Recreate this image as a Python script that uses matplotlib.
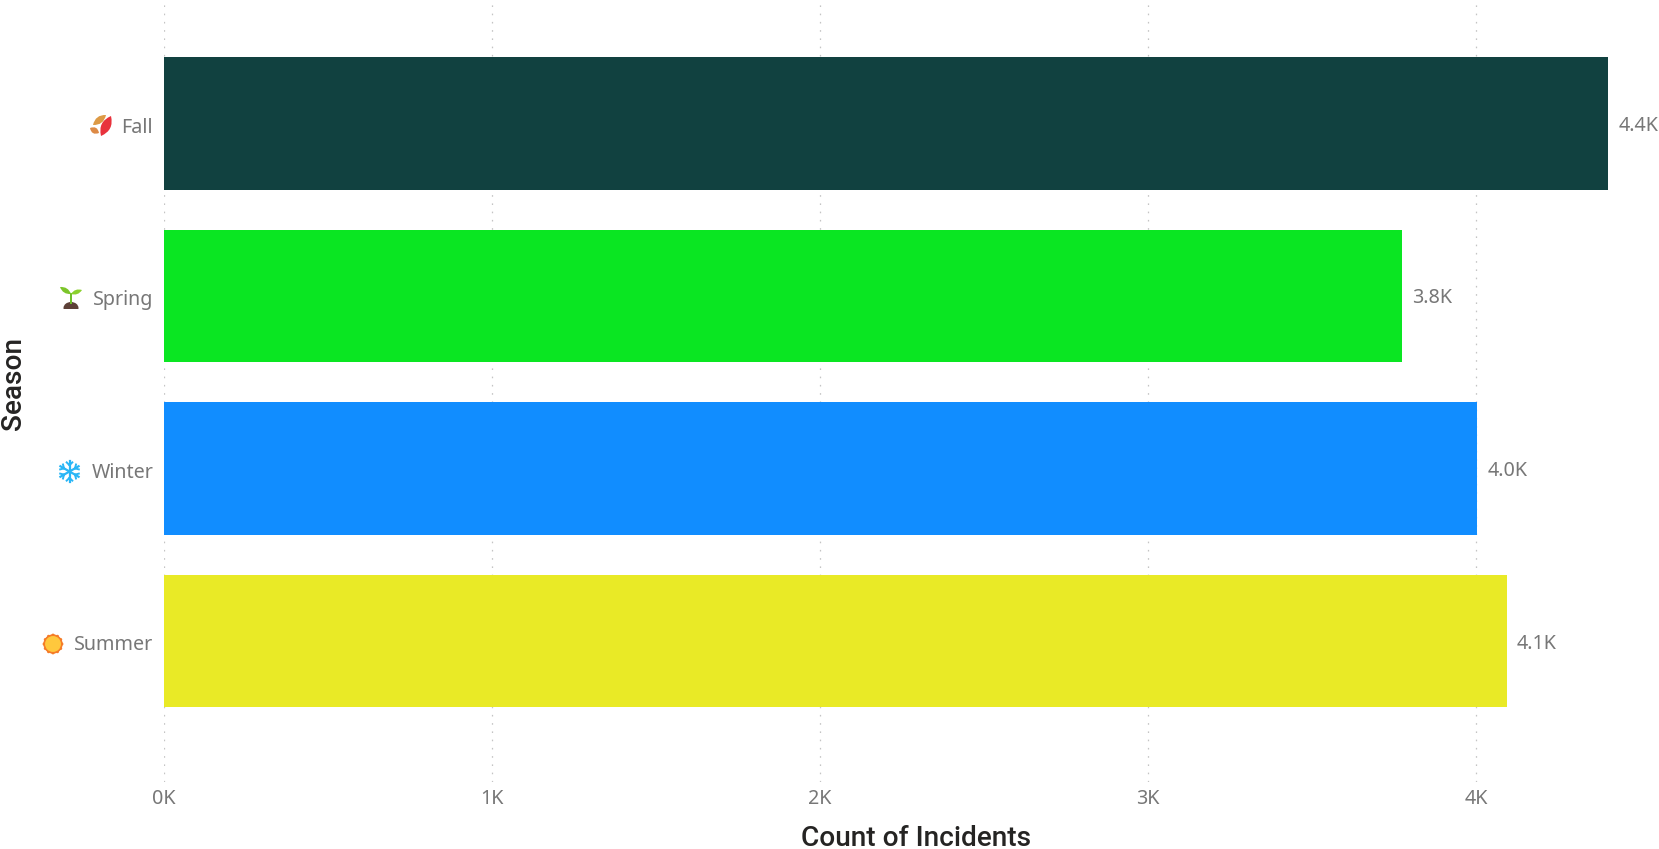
import numpy as np
import matplotlib
matplotlib.use("Agg")
import matplotlib.pyplot as plt
from matplotlib.patches import Circle, Ellipse, Polygon, PathPatch
from matplotlib.path import Path
from matplotlib.transforms import Affine2D, ScaledTranslation
from matplotlib.ticker import FuncFormatter

seasons = ["Fall", "Spring", "Winter", "Summer"]
incidents = [4402, 3773, 4003, 4093]
bar_colors = ["#114140", "#0AE622", "#118DFF", "#E9EA26"]
x_ticks = [0, 1000, 2000, 3000, 4000]

W, H = 1659, 849
fig = plt.figure(figsize=(W / 100, H / 100), dpi=100, facecolor="white")
ax = fig.add_axes([164 / W, 1 - 782 / H, (W - 164) / W, 782 / H])

GREY = "#777777"
TXT = "Noto Sans"
TITLE = "Roboto"

ax.barh(range(len(seasons)), incidents, height=0.768, color=bar_colors, zorder=3)
ax.set_xlim(0, (W - 164) / 328 * 1000)
ax.set_ylim(3.816, -0.715)

ax.set_xticks(x_ticks)
ax.xaxis.set_major_formatter(FuncFormatter(lambda v, _: f"{v / 1000:.0f}K"))
ax.set_yticks(range(len(seasons)))
ax.set_yticklabels(seasons)
ax.tick_params(axis="both", length=0, labelcolor=GREY, labelsize=14.2)
ax.tick_params(axis="x", pad=5)
ax.tick_params(axis="y", pad=7.8)
for lab in ax.get_xticklabels():
    lab.set_family(TXT)
for lab in ax.get_yticklabels():
    lab.set_family(TXT)
    lab.set_transform(lab.get_transform() + ScaledTranslation(0, -1.6 / 100, fig.dpi_scale_trans))
ax.grid(axis="x", color="#c4c4c4", linewidth=0.9, linestyle=(0, (1.3, 5.3)), zorder=0)
ax.set_axisbelow(True)
for s in ax.spines.values():
    s.set_visible(False)

for i, v in enumerate(incidents):
    ax.annotate(f"{v / 1000:.1f}K", (v, i), xytext=(7.4, -1.7), textcoords="offset points",
                va="center", ha="left", color=GREY, fontsize=14.2, family=TXT,
                annotation_clip=False)

fig.text(916 / W, 1 - 838 / H, "Count of Incidents", ha="center", va="center",
         fontsize=20.2, fontweight="medium", family=TITLE, color="#252423")
fig.text(14 / W, 1 - 384 / H, "Season", ha="center", va="center", rotation=90,
         fontsize=20.2, fontweight="medium", family=TITLE, color="#252423")

# Small season icons, placed in reference pixel coordinates
px = Affine2D().scale(1 / W, -1 / H).translate(0, 1) + fig.transFigure
def add(p):
    p.set_transform(px)
    p.set_clip_on(False)
    fig.add_artist(p)

def leaf(a, b, bulge, color):
    a, b = np.array(a, float), np.array(b, float)
    d = b - a
    n = np.array([-d[1], d[0]]) * bulge
    m = (a + b) / 2
    codes = [Path.MOVETO, Path.CURVE3, Path.CURVE3, Path.CURVE3, Path.CURVE3]
    verts = [a, m + n, b, m - n, a]
    add(PathPatch(Path(verts, codes), facecolor=color, edgecolor="none"))

# Fall
leaf((111, 116), (101, 136), 0.42, "#E8323C")
leaf((93, 125), (106, 115), 0.42, "#DD9A45")
leaf((90, 128), (99, 133), 0.60, "#DD8A45")

# Spring
add(Ellipse((71, 308), 15, 12, facecolor="#5D4037", edgecolor="none"))
add(Polygon([(60, 309), (82, 309), (82, 315), (60, 315)], facecolor="white", edgecolor="none"))
add(Polygon([(69.6, 293), (72.2, 293), (72.2, 304), (69.6, 304)], facecolor="#6FBF2A", edgecolor="none"))
leaf((60, 287), (71, 294), 0.38, "#7CC52A")
leaf((82, 290), (71, 294), 0.38, "#8BD12E")

# Winter
cx, cy, r = 69.5, 471.5, 10.5
snow = "#29B6F6"
for k in range(6):
    t = np.pi / 2 + k * np.pi / 3
    u = np.array([np.cos(t), np.sin(t)])
    add(plt.Line2D([cx, cx + r * u[0]], [cy, cy + r * u[1]], color=snow, lw=1.6))
    for s in (-1, 1):
        base = np.array([cx, cy]) + 0.6 * r * u
        tt = t + s * np.pi / 4
        tip = base + 4 * np.array([np.cos(tt), np.sin(tt)])
        add(plt.Line2D([base[0], tip[0]], [base[1], tip[1]], color=snow, lw=1.4))

# Summer
sx, sy = 53, 644
for k in range(12):
    t = k * np.pi / 6
    add(Circle((sx + 8.8 * np.cos(t), sy + 8.8 * np.sin(t)), 1.6, facecolor="#F57C28", edgecolor="none"))
add(Circle((sx, sy), 8.8, facecolor="#FFC83D", edgecolor="#F57C28", linewidth=1.2))

fig.savefig("out.png", dpi=100, facecolor="white")
